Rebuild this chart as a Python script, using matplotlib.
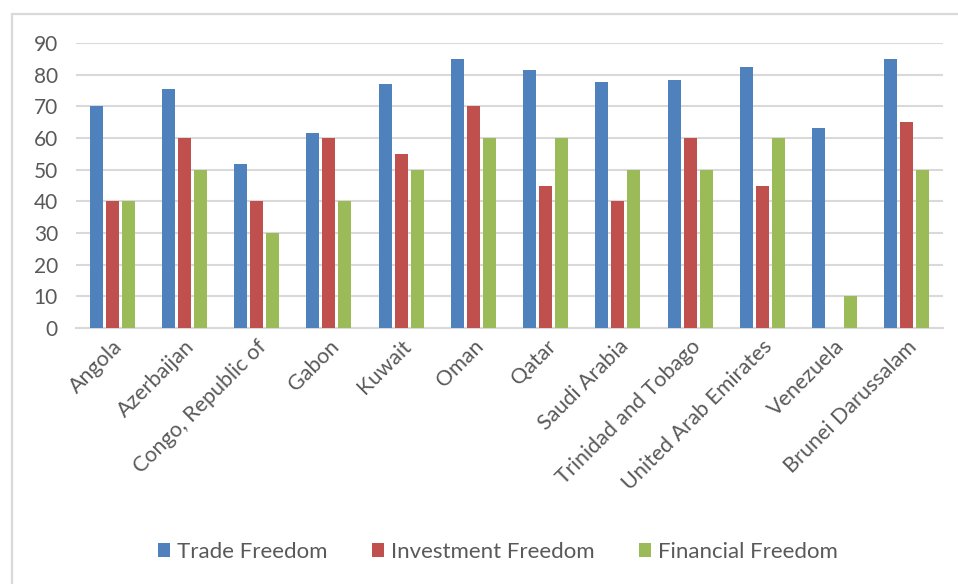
import matplotlib.pyplot as plt
import numpy as np
from matplotlib.patches import Rectangle

countries = ['Angola', 'Azerbaijan', 'Congo, Republic of', 'Gabon', 'Kuwait', 'Oman',
             'Qatar', 'Saudi Arabia', 'Trinidad and Tobago', 'United Arab Emirates',
             'Venezuela', 'Brunei Darussalam']
trade_freedom = [70, 75.6, 51.8, 61.6, 77, 85, 81.6, 77.6, 78.4, 82.5, 63, 85]
investment_freedom = [40, 60, 40, 60, 55, 70, 45, 40, 60, 45, 0, 65]
financial_freedom = [40, 50, 30, 40, 50, 60, 60, 50, 50, 60, 10, 50]

series = [('Trade Freedom', trade_freedom, '#4F81BD'),
          ('Investment Freedom', investment_freedom, '#C0504D'),
          ('Financial Freedom', financial_freedom, '#9BBB59')]

plt.rcParams['font.family'] = ['Lato', 'DejaVu Sans']
txt = '#595959'
grid = '#D9D9D9'

fig = plt.figure(figsize=(9.58, 5.84), dpi=100)
W, H = 958, 584
ax = fig.add_axes([76 / W, 1 - 328 / H, (943 - 76) / W, (328 - 43) / H])

# outer chart frame, runs off the right and bottom edges
fig.patches.append(Rectangle((12 / W, -0.05), 1.0, 1 - 14 / H + 0.05,
                             transform=fig.transFigure, fill=False,
                             edgecolor=grid, linewidth=1.6))

x = np.arange(len(countries))
step = 0.222
width = 0.178
for i, (name, vals, col) in enumerate(series):
    ax.bar(x + (i - 1) * step, vals, width, color=col, label=name, zorder=3)

ax.set_xlim(-0.5, len(countries) - 0.5)
ax.set_ylim(0, 90)
ax.set_yticks(np.arange(0, 91, 10))
ax.yaxis.grid(True, color=grid, linewidth=1.5, zorder=0)
for s in ['top', 'right', 'left']:
    ax.spines[s].set_visible(False)
ax.spines['bottom'].set_color(grid)
ax.spines['bottom'].set_linewidth(1.5)
ax.tick_params(axis='both', length=0, colors=txt, labelsize=15)
ax.tick_params(axis='y', pad=13)
ax.tick_params(axis='x', pad=6)
ax.set_xticks(x)
ax.set_xticklabels(countries, rotation=45, ha='right', rotation_mode='anchor', fontsize=15.5)

fig.legend(loc='center', bbox_to_anchor=(498 / W, 1 - 552 / H), ncol=3, frameon=False,
           fontsize=16, labelcolor=txt, handlelength=0.55, handleheight=0.55,
           handletextpad=0.3, columnspacing=2.0)

fig.savefig('out.png', dpi=100)
